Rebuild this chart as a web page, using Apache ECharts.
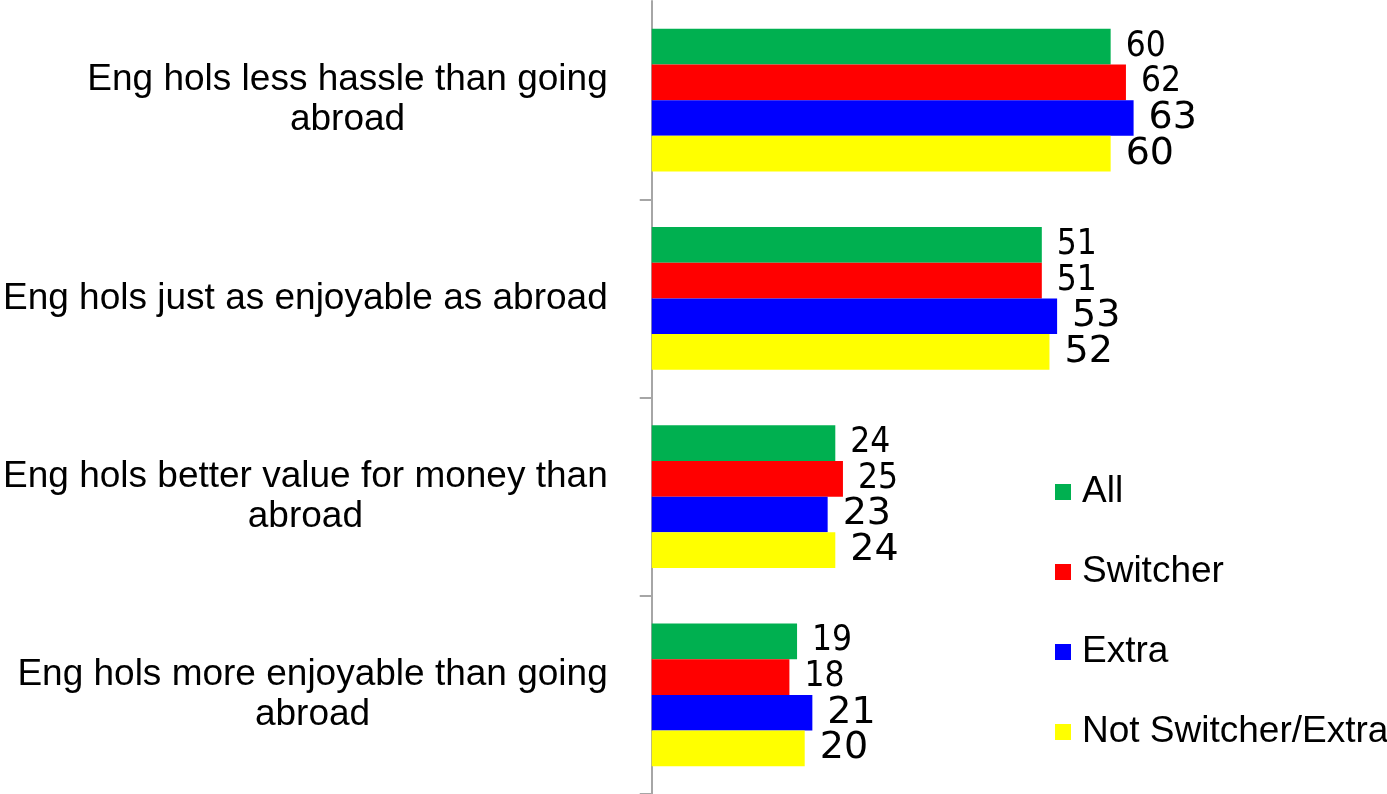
<!DOCTYPE html>
<html>
<head>
<meta charset="utf-8">
<script src="https://cdn.jsdelivr.net/npm/echarts@6/dist/echarts.min.js"></script>
<style>html,body{margin:0;padding:0;background:#fff}#c{width:1387px;height:794px}</style>
</head>
<body>
<div id="c"></div>
<script>
var categories = [
  "Eng hols less hassle than going\nabroad",
  "Eng hols just as enjoyable as abroad",
  "Eng hols better value for money than\nabroad",
  "Eng hols more enjoyable than going\nabroad"
];
var seriesNames = ["All", "Switcher", "Extra", "Not Switcher/Extra"];
var allValues = [60, 51, 24, 19];
var switcherValues = [62, 51, 25, 18];
var extraValues = [63, 53, 23, 21];
var notValues = [60, 52, 24, 20];
var colors = ["#00B050", "#FF0000", "#0000FF", "#FFFF00"];
var labelFonts = ["DejaVu Sans Condensed, Liberation Sans", "DejaVu Sans Condensed, Liberation Sans", "DejaVu Sans", "DejaVu Sans"];
var labelSizes = [35, 35, 38, 38];

var dataSets = [allValues, switcherValues, extraValues, notValues];
var chart = echarts.init(document.getElementById('c'), null, {renderer: 'canvas'});
var series = dataSets.map(function (d, i) {
  return {
    name: seriesNames[i],
    type: 'bar',
    data: d,
    barGap: '0%',
    barCategoryGap: '28%',
    itemStyle: {color: colors[i]},
    label: {
      show: true,
      position: 'right',
      distance: 15,
      color: '#000',
      fontFamily: labelFonts[i],
      fontSize: labelSizes[i]
    }
  };
});
chart.setOption({
  animation: false,
  backgroundColor: '#fff',
  grid: {left: 649, right: 1, top: 1, bottom: -4, containLabel: false},
  legend: {
    orient: 'vertical',
    left: 1050,
    top: 467,
    itemWidth: 16,
    itemHeight: 16,
    itemGap: 40,
    icon: 'rect',
    data: seriesNames,
    textStyle: {
      fontFamily: 'Liberation Sans',
      fontSize: 37,
      lineHeight: 40,
      color: '#000',
      padding: [0, 0, 0, 6]
    }
  },
  xAxis: {
    type: 'value',
    min: 0,
    max: 96,
    show: false,
    splitLine: {show: false}
  },
  yAxis: {
    type: 'category',
    inverse: true,
    data: categories,
    axisLine: {show: true, lineStyle: {color: '#A6A6A6', width: 2}},
    axisTick: {
      show: true,
      length: 12,
      interval: function (idx) { return idx !== 0; },
      lineStyle: {color: '#A6A6A6', width: 2}
    },
    axisLabel: {
      margin: 44,
      color: '#000',
      fontFamily: 'Liberation Sans',
      fontSize: 37,
      lineHeight: 40,
      formatter: function (v) {
        return v.split('\n').map(function (s) { return '{a|' + s + '}'; }).join('\n');
      },
      rich: {
        a: {align: 'center', fontFamily: 'Liberation Sans', fontSize: 37, lineHeight: 40, color: '#000'}
      }
    }
  },
  series: series
});
</script>
</body>
</html>
